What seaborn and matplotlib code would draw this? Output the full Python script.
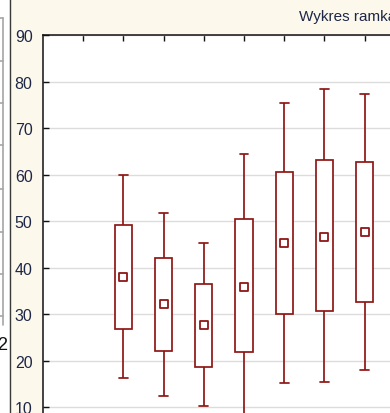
import numpy as np
import pandas as pd
import matplotlib
matplotlib.use("Agg")
import matplotlib.pyplot as plt
from matplotlib.patches import Rectangle
from matplotlib.lines import Line2D
import seaborn as sns

# ---- data (five-number summary per group) ----
groups        = ["1", "2", "3", "4", "5", "6", "7", "8"]
whisker_low   = [np.nan, 16.2, 12.5, 10.2,  7.8, 15.2, 15.4, 18.0]
box_low       = [np.nan, 26.9, 22.1, 18.7, 21.8, 30.0, 30.8, 32.6]
center        = [np.nan, 38.0, 32.1, 27.7, 35.9, 45.2, 46.7, 47.7]
box_high      = [np.nan, 49.2, 42.1, 36.6, 50.5, 60.5, 63.1, 62.8]
whisker_high  = [np.nan, 60.0, 51.8, 45.4, 64.4, 75.4, 78.5, 77.4]
y_ticks       = [10, 20, 30, 40, 50, 60, 70, 80, 90]
title_text    = "Wykres ramka-wąsy"

# long-form table: five values per group give exactly these quartiles / extremes
rows = []
for g, a, b, c, d, e in zip(groups, whisker_low, box_low, center, box_high, whisker_high):
    for v in (a, b, c, d, e):
        if not np.isnan(v):
            rows.append({"grp": g, "val": v})
df = pd.DataFrame(rows)
df_center = pd.DataFrame({"grp": groups, "val": center}).dropna()

sns.set_style("white")
plt.rcParams["font.family"] = ["Liberation Sans", "DejaVu Sans"]

RED = "#8f1717"
NAVY = "#1e2747"
CREAM = "#fcf8ec"

W, H = 390, 414
fig = plt.figure(figsize=(W / 100, H / 100), dpi=100)
fig.patch.set_facecolor(CREAM)

# left window strip (UI remnant)
fig.add_artist(Rectangle((0, 0), 9 / W, 1, transform=fig.transFigure,
                         facecolor="white", edgecolor="none", zorder=0))
fig.add_artist(Line2D([3 / W, 3 / W], [1 - 19 / H, 1 - 326 / H],
                      transform=fig.transFigure, color="#a6a6a6", lw=1.2))
for py in [19, 62, 104, 146, 190, 233, 275, 317]:
    fig.add_artist(Line2D([0, 3 / W], [1 - py / H, 1 - py / H],
                          transform=fig.transFigure, color="#a6a6a6", lw=1.2))
fig.add_artist(Line2D([9.5 / W, 9.5 / W], [0, 1], transform=fig.transFigure,
                      color="#3a3a3a", lw=1.0))
fig.text(8.5 / W, 1 - 345 / H, "22", ha="right", va="center",
         fontsize=13, color="#111111")

# title (cut off at right edge as in reference)
fig.text(299 / W, 1 - 17 / H, title_text, ha="left", va="center",
         fontsize=11, color=NAVY)

ax = fig.add_axes([43 / W, 0, (W - 43) / W, (H - 36) / H])
ax.set_facecolor("white")

sns.boxplot(data=df, x="grp", y="val", order=groups, whis=np.inf,
            width=0.43, color="white", linecolor=RED, linewidth=1.25,
            showfliers=False, saturation=1,
            medianprops={"visible": False}, ax=ax)
sns.stripplot(data=df_center, x="grp", y="val", order=groups, jitter=False,
              marker="s", size=5.2, color="white", edgecolor=RED,
              linewidth=1.3, zorder=5, ax=ax)

ax.set_ylim(90 - (H - 36) / 4.654, 90)
ax.set_xlim(-1, -1 + (W - 43) / 40.2)
ax.set_yticks(y_ticks)
ax.yaxis.grid(True, color="#dcdcdc", lw=1.0)
ax.xaxis.grid(False)
ax.set_axisbelow(True)

ax.xaxis.tick_top()
ax.tick_params(axis="x", direction="in", length=4, width=1, color="#111111",
               labeltop=False, labelbottom=False, top=True, bottom=False)
ax.tick_params(axis="y", direction="in", length=4, width=1, color="#111111",
               labelsize=11.5, labelcolor=NAVY, pad=7.5, left=True)
ax.set_xlabel("")
ax.set_ylabel("")
for s in ["right", "bottom"]:
    ax.spines[s].set_visible(False)
for s in ["left", "top"]:
    ax.spines[s].set_visible(True)
    ax.spines[s].set_color("#111111")
    ax.spines[s].set_linewidth(1.1)

fig.savefig("out.png", dpi=100, facecolor=fig.get_facecolor())
